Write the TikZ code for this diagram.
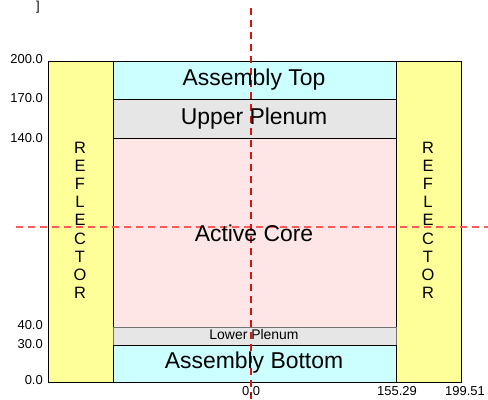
\documentclass[tikz,border=0pt]{standalone}
\usepackage{fontspec}
\setmainfont{Liberation Sans}
\usetikzlibrary{positioning}
\definecolor{reflyellow}{HTML}{FFFF99}
\definecolor{asmcyan}{HTML}{CCFFFF}
\definecolor{plengray}{HTML}{E6E6E6}
\definecolor{corepink}{HTML}{FFE6E6}
\definecolor{cutred}{HTML}{FF5A5A}
\definecolor{cutdark}{HTML}{E01010}
\tikzset{
  region/.style={draw=black,line width=1bp},
  cutline/.style={dash pattern=on 7bp off 5bp,line width=1.2bp},
  reflabel/.style={font=\fontsize{16.5}{16.5}\selectfont,inner sep=0pt},
  partlabel/.style={font=\fontsize{23}{23}\selectfont,inner sep=0pt},
  ticklabel/.style={font=\fontsize{13}{13}\selectfont,inner sep=0pt}
}
\begin{document}
\begin{tikzpicture}[x=1bp,y=-1bp]
      \useasboundingbox (0,0) rectangle (488,399);
      \draw[region,fill=reflyellow] (48,61) rectangle (113,382);
      \draw[region,fill=reflyellow] (396,61) rectangle (461,382);
      \draw[region,fill=asmcyan] (113,61) rectangle (396,99);
      \draw[region,fill=plengray] (113,99) rectangle (396,138);
      \draw[region,fill=corepink] (113,138) rectangle (396,327);
      \draw[region,fill=plengray,draw=black!55] (113,327) rectangle (396,345);
      \draw[region] (113,345) -- (396,345);
      \draw[region,fill=asmcyan] (113,345) rectangle (396,382);
      \coordinate (hl) at (16,227);
      \coordinate (hr) at (488,227);
      \coordinate (vt) at (251,8);
      \coordinate (vb) at (251,399);
      \draw[cutline,draw=cutred] (hl) -- (hr);
      \draw[cutline,draw=cutdark] (vt) -- (vb);
      \node[partlabel] (asmtop) at (254,80) {Assembly Top};
      \node[partlabel] (upplen) at (254,119) {Upper Plenum};
      \node[partlabel] (core) at (254,233) {Active Core};
      \node[font=\fontsize{14}{14}\selectfont,inner sep=0pt] (lowplen) at (254,335) {Lower Plenum};
      \node[partlabel] (asmbot) at (254,363) {Assembly Bottom};
      \foreach \c [count=\i] in {R,E,F,L,E,C,T,O,R} {
        \node[reflabel] (refla\i) at (80,{147.5+18.2*(\i-1)}) {\c};
        \node[reflabel] (reflb\i) at (428,{147.5+18.2*(\i-1)}) {\c};
      }
      \node[ticklabel,anchor=east] (y200) at (43,59) {200.0};
      \node[ticklabel,anchor=east] (y170) at (43,98) {170.0};
      \node[ticklabel,anchor=east] (y140) at (43,138) {140.0};
      \node[ticklabel,anchor=east] (y40) at (43,325) {40.0};
      \node[ticklabel,anchor=east] (y30) at (43,344) {30.0};
      \node[ticklabel,anchor=east] (y0) at (43,380) {0.0};
      \node[ticklabel] (x0) at (251,391) {0.0};
      \node[ticklabel] (x155) at (397,391) {155.29};
      \node[ticklabel] (x199) at (465,391) {199.51};
      \node[ticklabel,anchor=north] (brk) at (38,1) {]};
\end{tikzpicture}
\end{document}
